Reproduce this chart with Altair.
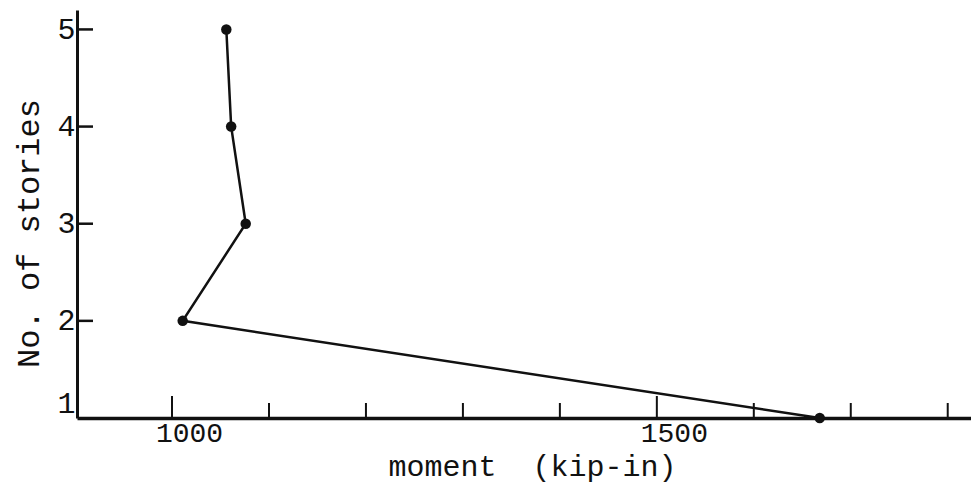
import altair as alt
import pandas as pd

# ---- data ----
stories = [1, 2, 3, 4, 5]
moment = [1668, 1011, 1076, 1061, 1056]
x_label_values = [1000, 1500]
major_ticks = [1000, 1500]
minor_ticks = [1100, 1200, 1300, 1400, 1600, 1700, 1800]
y_label_values = [1, 2, 3, 4, 5]
y_ticks = [2, 3, 4, 5]

W, H = 894, 408
FONT = "Liberation Mono"
INK = "#111111"

df = pd.DataFrame({"moment": moment, "stories": stories})
major_df = pd.DataFrame({"moment": major_ticks})
minor_df = pd.DataFrame({"moment": minor_ticks})
ytick_df = pd.DataFrame({"stories": y_ticks})

xscale = alt.Scale(domain=[902, 1824], nice=False, zero=False)
yscale = alt.Scale(domain=[1, 5.2], nice=False, zero=False)

xaxis = alt.Axis(
    title="moment\u00a0 (kip-in)", values=x_label_values, format="d",
    ticks=False, grid=False, domainColor=INK, domainWidth=3.5,
    labelFont=FONT, labelFontSize=28, labelColor=INK, labelPadding=1,
    labelOffset=17, labelFlush=False,
    titleFont=FONT, titleFontSize=30, titleFontWeight="normal", titleColor=INK,
    titleX=455, titleY=48, titleBaseline="middle", titleAlign="center",
)
yaxis = alt.Axis(
    title="No. of stories", values=y_label_values, format="d",
    ticks=False, grid=False, domainColor=INK, domainWidth=3,
    labelFont=FONT, labelFontSize=30, labelColor=INK, labelPadding=2,
    labelFlush=True,
    titleFont=FONT, titleFontSize=32, titleFontWeight="normal", titleColor=INK,
    titleX=-49, titleY=223, titleAngle=-90, titleBaseline="middle", titleAlign="center",
)

X = alt.X("moment:Q", scale=xscale, axis=xaxis)
Y = alt.Y("stories:Q", scale=yscale, axis=yaxis)

line = alt.Chart(df).mark_line(color=INK, strokeWidth=2.5).encode(
    x=X, y=Y, order="stories:Q",
)
points = alt.Chart(df).mark_circle(size=110, color=INK, opacity=1).encode(
    x=X, y=Y,
)
major = alt.Chart(major_df).mark_rule(color=INK, strokeWidth=2).encode(
    x=X, y=alt.value(H), y2=alt.value(H - 22),
)
minor = alt.Chart(minor_df).mark_rule(color=INK, strokeWidth=2).encode(
    x=X, y=alt.value(H), y2=alt.value(H - 15),
)
yt = alt.Chart(ytick_df).mark_rule(color=INK, strokeWidth=2.5).encode(
    y=Y, x=alt.value(0), x2=alt.value(16),
)

chart = alt.layer(line, points, major, minor, yt).properties(
    width=W, height=H,
    autosize=alt.AutoSizeParams(type="none"),
    padding={"left": 69, "top": 2, "right": 0, "bottom": 66},
    background="white",
).configure_view(stroke=None)

chart.save("out.html", embed_options={"renderer": "svg", "actions": False})
